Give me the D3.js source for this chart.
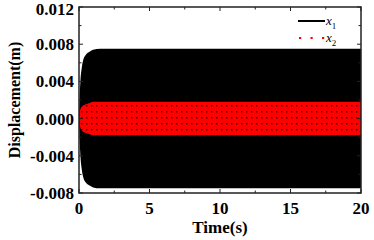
<!DOCTYPE html>
<html><head><meta charset="utf-8">
<script src="https://cdn.jsdelivr.net/npm/d3@7/dist/d3.min.js"></script>
<style>body{margin:0;background:#fff}svg{display:block}</style>
</head><body><svg id="c" width="374" height="240"></svg>
<script>
// Envelope of x1 (black): time (s) and amplitude (m)
const x1Time = [0, 0.05, 0.1, 0.2, 0.3, 0.5, 0.75, 1, 1.5, 2, 20];
const x1Amp  = [0, 0.0025, 0.0040, 0.0055, 0.0063, 0.0069, 0.0072, 0.0074, 0.0075, 0.0075, 0.0075];
// Envelope of x2 (red)
const x2Time = [0, 0.05, 0.1, 0.2, 0.4, 0.6, 0.8, 1.0, 1.5, 20];
const x2Amp  = [0, 0.0007, 0.0010, 0.0013, 0.0015, 0.0016, 0.0017, 0.0018, 0.0018, 0.0018];
const xTicks = [0, 5, 10, 15, 20];
const yTicks = [-0.008, -0.004, 0.000, 0.004, 0.008, 0.012];
const legendLabels = ["1", "2"];

const svg = d3.select("#c");
const L = 79, R = 361, T = 7, B = 193;
const x = d3.scaleLinear().domain([0, 20]).range([L, R]);
const y = d3.scaleLinear().domain([-0.008, 0.012]).range([B, T]);

const defs = svg.append("defs");
const pat = defs.append("pattern").attr("id", "dots").attr("patternUnits", "userSpaceOnUse")
  .attr("width", 5).attr("height", 6).attr("x", L).attr("y", 1);
pat.append("rect").attr("width", 5).attr("height", 6).attr("fill", "#ff0000");
pat.append("rect").attr("x", 2).attr("y", 2).attr("width", 1.5).attr("height", 1.5).attr("fill", "#400000");

const clip = defs.append("clipPath").attr("id", "pc");
clip.append("rect").attr("x", L).attr("y", T).attr("width", R - L).attr("height", B - T);

const d1 = x1Time.map((t, i) => [t, x1Amp[i]]);
const d2 = x2Time.map((t, i) => [t, x2Amp[i]]);
const area = d3.area().x(d => x(d[0])).y0(d => y(-d[1])).y1(d => y(d[1])).curve(d3.curveMonotoneX);

const g = svg.append("g").attr("clip-path", "url(#pc)");
g.append("path").datum(d1).attr("d", area).attr("fill", "#000");
g.append("path").datum(d2).attr("d", area).attr("fill", "url(#dots)");

// axes (ticks inward)
const font = "'Liberation Serif','Times New Roman',serif";
const xMinor = d3.range(0, 20.01, 2.5);
const yMinor = d3.range(-0.008, 0.0121, 0.002);
const ax = svg.append("g").attr("stroke", "#222").attr("stroke-width", 1);
xMinor.forEach(v => {
  const len = xTicks.includes(v) ? 4 : 2.5;
  ax.append("line").attr("x1", x(v)).attr("x2", x(v)).attr("y1", B).attr("y2", B - len);
  ax.append("line").attr("x1", x(v)).attr("x2", x(v)).attr("y1", T).attr("y2", T + len);
});
yMinor.forEach((v, i) => {
  const len = i % 2 === 0 ? 4 : 2.5;
  ax.append("line").attr("x1", L).attr("x2", L + len).attr("y1", y(v)).attr("y2", y(v));
  ax.append("line").attr("x1", R).attr("x2", R - len).attr("y1", y(v)).attr("y2", y(v));
});
svg.append("rect").attr("x", L).attr("y", T).attr("width", R - L).attr("height", B - T)
  .attr("fill", "none").attr("stroke", "#222").attr("stroke-width", 1.5);

svg.append("g").selectAll("text").data(xTicks).join("text")
  .attr("x", d => x(d)).attr("y", 214).attr("text-anchor", "middle")
  .attr("font-family", font).attr("font-weight", "bold").attr("font-size", 17)
  .text(d => d3.format("d")(d));
svg.append("g").selectAll("text").data(yTicks).join("text")
  .attr("x", 74).attr("y", d => Math.max(y(d), 9)).attr("dy", "0.35em").attr("text-anchor", "end")
  .attr("font-family", font).attr("font-weight", "bold").attr("font-size", 17)
  .text(d => d3.format(".3f")(d).replace("−", "-"));

svg.append("text").attr("x", (L + R) / 2).attr("y", 233).attr("text-anchor", "middle")
  .attr("font-family", font).attr("font-weight", "bold").attr("font-size", 17).text("Time(s)");
svg.append("text").attr("transform", `translate(20,${(T + B) / 2}) rotate(-90)`).attr("text-anchor", "middle")
  .attr("font-family", font).attr("font-weight", "bold").attr("font-size", 16).text("Displacement(m)");

// legend
const lg = svg.append("g");
lg.append("line").attr("x1", 298).attr("x2", 325).attr("y1", 21).attr("y2", 21).attr("stroke", "#000").attr("stroke-width", 2);
lg.append("line").attr("x1", 299).attr("x2", 325).attr("y1", 38).attr("y2", 38).attr("stroke", "#ff0000")
  .attr("stroke-width", 2.2).attr("stroke-dasharray", "2.2,9.3");
legendLabels.forEach((s, i) => {
  const t = lg.append("text").attr("x", 326).attr("y", 25 + i * 17).attr("font-family", font).attr("font-size", 13);
  t.append("tspan").attr("font-style", "italic").text("x");
  t.append("tspan").attr("dy", 4).attr("font-size", 9).text(s);
});
</script></body></html>
